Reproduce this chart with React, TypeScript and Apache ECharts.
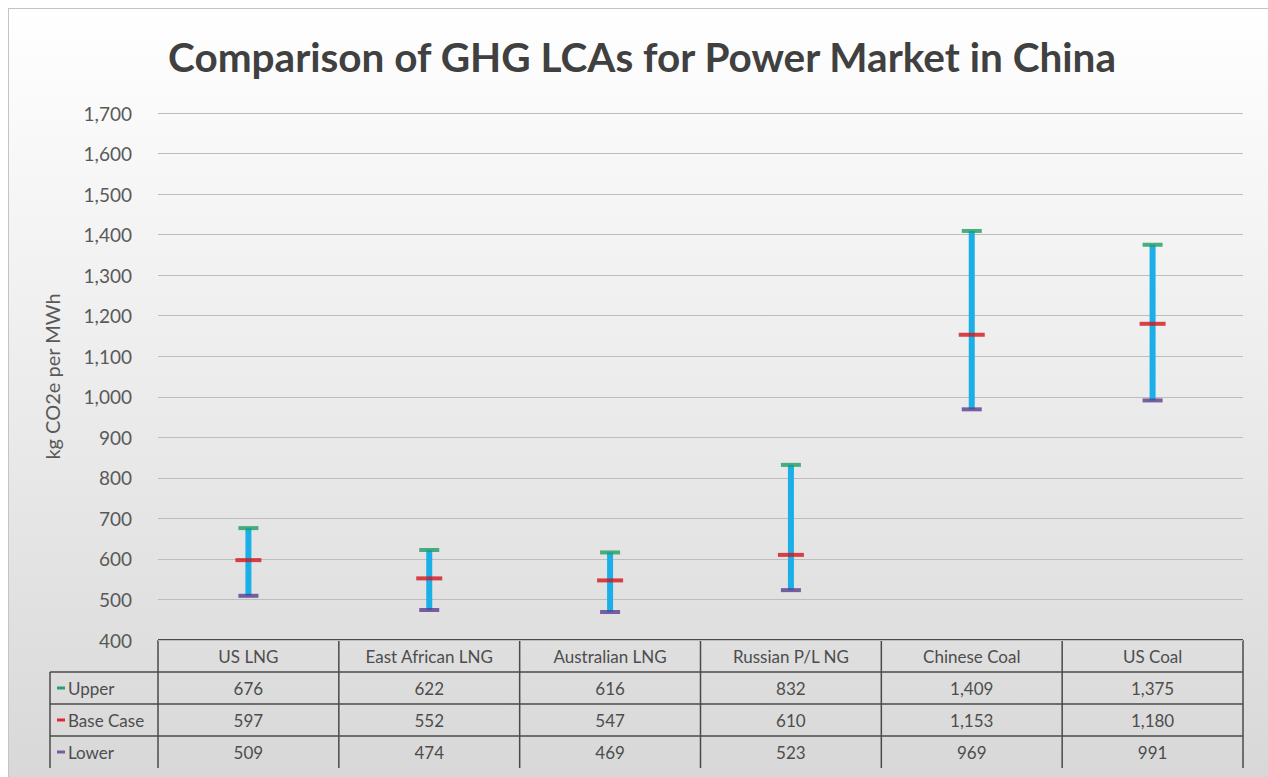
import React, { useEffect, useRef } from "react";
import * as echarts from "echarts";

const title = "Comparison of GHG LCAs for Power Market in China";
const yAxisTitle = "kg CO2e per MWh";
const categories = ["US LNG", "East African LNG", "Australian LNG", "Russian P/L NG", "Chinese Coal", "US Coal"];
const upper = [676, 622, 616, 832, 1409, 1375];
const baseCase = [597, 552, 547, 610, 1153, 1180];
const lower = [509, 474, 469, 523, 969, 991];
const rowNames = ["Upper", "Base Case", "Lower"];
const yMin = 400;
const yMax = 1700;
const yStep = 100;

const COL_UPPER = "#1f9e63";
const COL_BASE = "#d2151c";
const COL_LOWER = "#5a3d8c";
const COL_RANGE = "#1aafe6";
const FONT = "Lato, 'Open Sans', sans-serif";

const fmt = (v: number) => v.toLocaleString("en-US");

export default function App() {
  const ref = useRef<HTMLDivElement>(null);
  useEffect(() => {
    document.body.style.overflow = "hidden";
    const chart = echarts.init(ref.current!, null, { renderer: "svg" });
    const gL = 158, gR = 1243, gT = 113, gB = 640;
    const rowH = 32;
    const tableLeft = 50;
    const colW = (gR - gL) / categories.length;
    const lineColor = "#4a4a4a";
    const textColor = "#4d4d4d";
    const graphics: any[] = [];
    graphics.push({ type: "line", shape: { x1: gL, y1: gB, x2: gR, y2: gB }, style: { stroke: lineColor, lineWidth: 2 } });
    for (let r = 1; r <= 3; r++) {
      graphics.push({ type: "line", shape: { x1: tableLeft, y1: gB + r * rowH, x2: gR, y2: gB + r * rowH }, style: { stroke: lineColor, lineWidth: 1.5 } });
    }
    graphics.push({ type: "line", shape: { x1: tableLeft, y1: gB + rowH, x2: tableLeft, y2: gB + 4 * rowH }, style: { stroke: lineColor, lineWidth: 1.5 } });
    for (let c = 0; c <= categories.length; c++) {
      const x = gL + c * colW;
      graphics.push({ type: "line", shape: { x1: x, y1: gB, x2: x, y2: gB + 4 * rowH }, style: { stroke: lineColor, lineWidth: 1.5 } });
    }
    const keyColors = ["#22a36a", "#e0282e", "#7a5aa6"];
    rowNames.forEach((n, i) => {
      const cy = gB + (i + 1) * rowH + rowH / 2;
      graphics.push({ type: "rect", shape: { x: 57, y: cy - 1.5, width: 8, height: 3 }, style: { fill: keyColors[i] } });
      graphics.push({ type: "text", x: 68, y: cy, style: { text: n, font: `17px ${FONT}`, fill: textColor, verticalAlign: "middle", align: "left" } });
    });
    graphics.push({
      type: "text", x: 52, y: (gT + gB) / 2, rotation: Math.PI / 2,
      style: { text: yAxisTitle, font: `20px ${FONT}`, fill: "#595959", align: "center", verticalAlign: "middle" },
    });

    const rows = [null, upper, baseCase, lower];
    const xAxes = rows.map((vals, i) => ({
      type: "category",
      data: categories,
      position: "bottom",
      offset: i * rowH,
      boundaryGap: true,
      axisLine: { show: false },
      axisTick: { show: false },
      splitLine: { show: false },
      axisLabel: {
        interval: 0,
        margin: rowH / 2,
        verticalAlign: "middle",
        fontFamily: FONT,
        fontSize: 17,
        color: textColor,
        formatter: vals ? (_: string, idx: number) => fmt((vals as number[])[idx]) : (v: string) => v,
      },
    }));

    chart.setOption({
      animation: false,
      backgroundColor: "transparent",
      title: {
        text: title,
        left: 637,
        top: 31,
        textAlign: "center",
        textStyle: { fontFamily: FONT, fontWeight: "bold", fontSize: 40.5, color: "#404040" },
      },
      grid: { left: gL, right: 1268 - gR, top: gT, bottom: 777 - gB, containLabel: false },
      xAxis: xAxes,
      yAxis: {
        type: "value",
        min: yMin,
        max: yMax,
        interval: yStep,
        axisLine: { show: false },
        axisTick: { show: false },
        axisLabel: { margin: 26, fontFamily: FONT, fontSize: 19, color: "#595959", formatter: (v: number) => fmt(v) },
        splitLine: { lineStyle: { color: "#bdbdbd", width: 1.2 } },
      },
      series: [
        {
          type: "custom",
          xAxisIndex: 0,
          data: categories.map((_, i) => [i, lower[i], upper[i]]),
          encode: { x: 0, y: [1, 2] },
          renderItem: (_p: any, api: any) => {
            const a = api.coord([api.value(0), api.value(1)]);
            const b = api.coord([api.value(0), api.value(2)]);
            return { type: "line", shape: { x1: a[0], y1: a[1], x2: b[0], y2: b[1] }, style: { stroke: COL_RANGE, lineWidth: 6 } };
          },
          z: 2,
        },
        { name: "Upper", type: "scatter", xAxisIndex: 0, data: upper, symbol: "rect", symbolSize: [20, 4], itemStyle: { color: COL_UPPER }, z: 3 },
        { name: "Base Case", type: "scatter", xAxisIndex: 0, data: baseCase, symbol: "rect", symbolSize: [26, 4], itemStyle: { color: COL_BASE }, z: 3 },
        { name: "Lower", type: "scatter", xAxisIndex: 0, data: lower, symbol: "rect", symbolSize: [20, 4], itemStyle: { color: COL_LOWER }, z: 3 },
      ],
      graphic: graphics,
    });
    return () => chart.dispose();
  }, []);
  return (
    <div style={{ position: "fixed", left: 0, top: 0, width: 1268, height: 777, background: "#ffffff" }}>
      <div
        style={{
          position: "absolute", left: 8, top: 8, width: 1300, height: 800,
          borderTop: "1.5px solid #c4c4c4", borderLeft: "1.5px solid #c4c4c4",
          background: "linear-gradient(to bottom, #ffffff 0px, #ececec 380px, #d8d8d8 769px)",
        }}
      />
      <div ref={ref} style={{ position: "absolute", left: 0, top: 0, width: 1268, height: 777 }} />
    </div>
  );
}
